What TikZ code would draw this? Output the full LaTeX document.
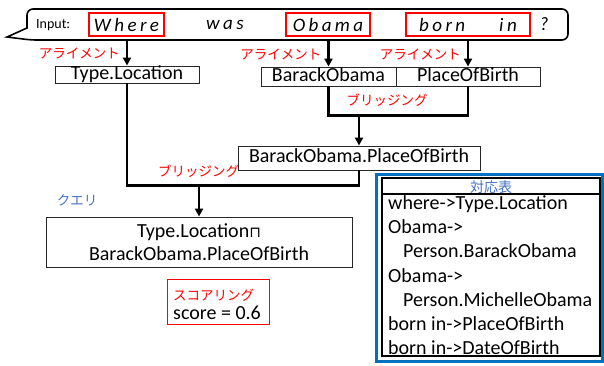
\documentclass[tikz,border=0pt]{standalone}
\usepackage{fontspec}
\setmainfont{Carlito}
\newfontfamily\jp{Noto Sans CJK JP}
\newfontfamily\symf{DejaVu Sans}
\newfontfamily\spacedf[LetterSpace=18]{Carlito}
\usetikzlibrary{arrows.meta,calc}
\definecolor{myred}{RGB}{255,0,0}
\definecolor{myblue}{RGB}{68,114,196}
\definecolor{tblblue}{RGB}{0,112,192}
\begin{document}
\begin{tikzpicture}[x=1pt,y=-1pt,
  box/.style={draw=black!85, line width=0.9pt, inner sep=0, font=\fontsize{20}{23}\selectfont},
  sbox/.style={text height=13pt, text depth=4pt},
  conn/.style={line width=2.4pt},
  arr/.style={line width=2.4pt, -{Triangle[length=8pt,width=8pt]}},
  jlabel/.style={text=myred, font=\jp\fontsize{13.5}{15}\selectfont, inner sep=0},
  word/.style={font=\spacedf\itshape\fontsize{19}{22}\selectfont, inner sep=0},
  wbox/.style={draw=myred, line width=2pt, inner sep=0, minimum height=23pt},
  ttext/.style={anchor=base west, inner sep=0, font=\fontsize{20}{24}\selectfont},
]
\useasboundingbox (0,0) rectangle (604,365);

% speech bubble
\draw[line width=1.6pt] (27,28) [rounded corners=6pt] -- (27,9) -- (568,9) -- (568,40) -- (31,40) [sharp corners] -- (7,37) -- cycle;
\node[inner sep=0, minimum width=541pt, minimum height=31pt] (bubble) at (297.5,24.5) {};
\node[font=\fontsize{14}{16}\selectfont, anchor=west, inner sep=0] (input) at (36,25) {Input:};
\node[wbox, word, minimum width=75pt] (where) at (126.5,24.5) {Where};
\node[word] (was) at (225,24.5) {was};
\node[wbox, word, minimum width=84pt] (obama) at (328,24.5) {Obama};
\node[wbox, word, minimum width=124pt] (bornin) at (468,24.5) {born\hspace*{34pt}in};
\node[word] (qm) at (544,24.5) {?};

% boxes
\node[box, sbox, minimum width=144pt, minimum height=17pt] (tl) at (127,74.5) {Type.Location};
\node[box, sbox, minimum width=135pt, minimum height=19pt] (bo) at (328.5,76.5) {BarackObama};
\node[box, sbox, minimum width=144pt, minimum height=19pt] (pob) at (468,76.5) {PlaceOfBirth};
\node[box, sbox, minimum width=242pt, minimum height=24pt] (bop) at (359,158) {BarackObama.PlaceOfBirth};
\node[box, minimum width=306pt, minimum height=50pt, align=center] (query) at (199,242) {Type.Location{\symf\fontsize{15}{18}\selectfont ⊓}\\BarackObama.PlaceOfBirth};

% alignment arrows
\draw[arr] (bubble.south -| tl.north) -- (tl.north);
\draw[arr] (bubble.south -| bo.north) -- (bo.north);
\draw[arr] (bubble.south -| pob.north) -- (pob.north);
\node[jlabel, anchor=east] (al1) at ($(tl.north)+(-7,-12)$) {アライメント};
\node[jlabel, anchor=east] (al2) at ($(bo.north)+(-7,-12)$) {アライメント};
\node[jlabel, anchor=east] (al3) at ($(pob.north)+(-7,-12)$) {アライメント};

% bridging 1
\coordinate (j1) at ($(bo.south)+(0,29)$);
\draw[conn] (bo.south) -- (j1) -- (j1 -| pob.south) -- (pob.south);
\draw[arr] (j1 -| bop.north) -- (bop.north);
\node[jlabel] (br1) at (387,100) {ブリッジング};

% bridging 2
\coordinate (j2) at ($(tl.south)+(0,102)$);
\draw[conn] (tl.south) -- (j2) -- (j2 -| bop.south) -- (bop.south);
\draw[arr] (j2 -| query.north) -- (query.north);
\node[jlabel] (br2) at (198.5,171) {ブリッジング};

\node[text=myblue, font=\jp\fontsize{13.5}{15}\selectfont, inner sep=0] (qlabel) at (77,200) {クエリ};

% scoring
\node[draw=myred, line width=0.9pt, minimum width=102pt, minimum height=45pt, inner sep=0] (score) at (218,301.5) {};
\node[jlabel, anchor=west] (scl) at (173,295) {スコアリング};
\node[anchor=west, inner sep=0, font=\fontsize{20}{24}\selectfont] (scv) at (173,313) {score = 0.6};

% table
\draw[tblblue, line width=3pt] (376.5,174.5) rectangle (602.5,361.5);
\node[draw, line width=1.8pt, minimum width=218pt, minimum height=178pt, inner sep=0] (tbl) at (491,267) {};
\draw[line width=1.6pt] ($(tbl.north west)+(0,17)$) -- ($(tbl.north east)+(0,17)$);
\node[text=myblue, font=\jp\fontsize{14}{16}\selectfont, inner sep=0] (thead) at (491,187) {対応表};
\begin{scope}
\clip (382,178) rectangle (600,356);
\node[ttext] (t1) at (388,209.5) {where->Type.Location};
\node[ttext] (t2) at (388,233.7) {Obama->};
\node[ttext] (t3) at (403,257.9) {Person.BarackObama};
\node[ttext] (t4) at (388,282.1) {Obama->};
\node[ttext] (t5) at (403,306.3) {Person.MichelleObama};
\node[ttext] (t6) at (388,330.5) {born in->PlaceOfBirth};
\node[ttext] (t7) at (388,354.7) {born in->DateOfBirth};
\end{scope}
\end{tikzpicture}
\end{document}
